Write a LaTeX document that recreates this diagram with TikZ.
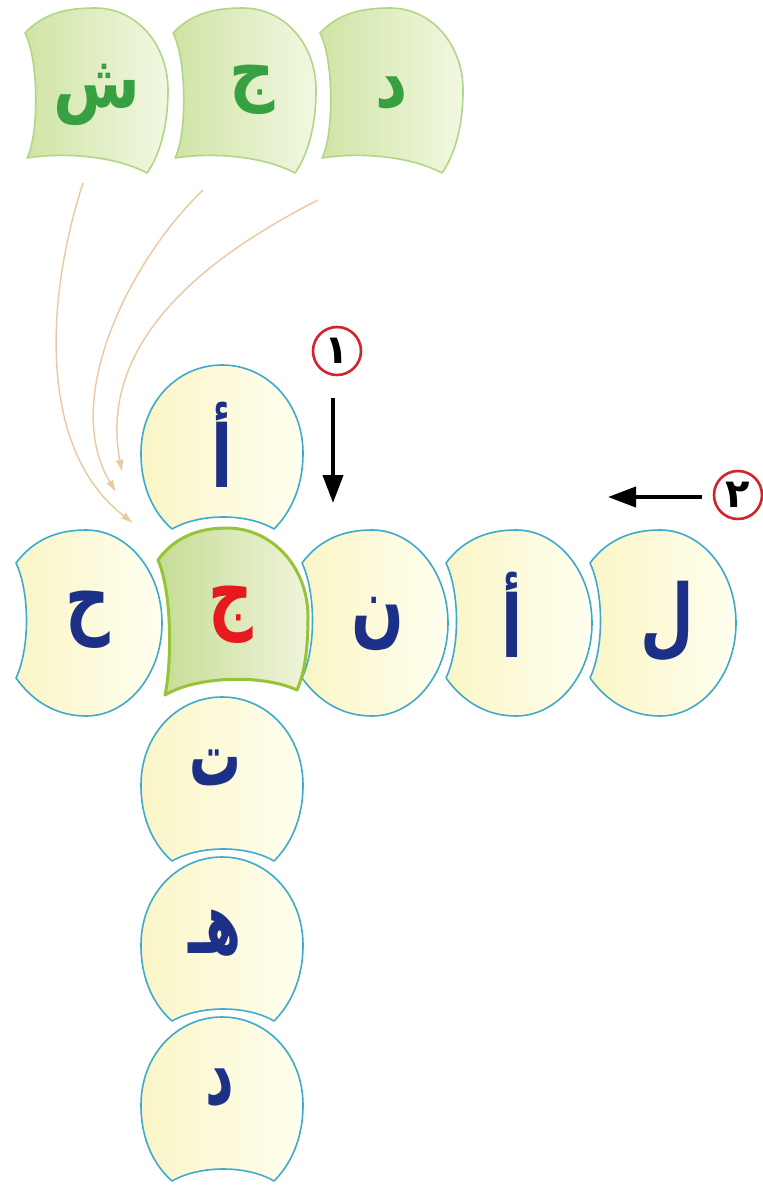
\documentclass[tikz,border=0pt]{standalone}
\usepackage{fontspec}
\usetikzlibrary{arrows.meta}
\TeXXeTstate=1
\newfontfamily\arabicfont[Script=Arabic]{DejaVu Sans}
\definecolor{hfillA}{RGB}{250,245,198}
\definecolor{hfillB}{RGB}{255,255,240}
\definecolor{hdraw}{RGB}{62,170,205}
\definecolor{gfillA}{RGB}{208,228,165}
\definecolor{gfillB}{RGB}{242,248,226}
\definecolor{gdraw}{RGB}{178,214,135}
\definecolor{cfillA}{RGB}{198,220,150}
\definecolor{cfillB}{RGB}{240,245,218}
\definecolor{cdraw}{RGB}{150,196,55}
\definecolor{letblue}{RGB}{28,48,135}
\definecolor{letgreen}{RGB}{55,160,65}
\definecolor{letred}{RGB}{230,25,30}
\definecolor{numred}{RGB}{212,35,45}
\definecolor{curvecol}{RGB}{236,200,160}
\newcommand{\arL}[2][0.72]{\scalebox{#1}[1]{\beginR #2\endR}}
\begin{document}
\begin{tikzpicture}[x=1pt,y=-1pt,
  hstyle/.style={left color=hfillA,right color=hfillB,draw=hdraw,line width=1.6pt,line join=round},
  gstyle/.style={left color=gfillA,right color=gfillB,draw=gdraw,line width=1.6pt,line join=round},
  cstyle/.style={left color=cfillA,right color=cfillB,draw=cdraw,line width=3pt,line join=round},
  letter/.style={font=\arabicfont\bfseries\fontsize{86}{96}\selectfont,text=letblue,inner sep=0pt},
  gletter/.style={font=\arabicfont\bfseries\fontsize{74}{80}\selectfont,text=letgreen,inner sep=0pt},
  numcirc/.style={circle,draw=numred,line width=2.6pt,minimum size=48pt,inner sep=0pt,
    font=\arabicfont\bfseries\fontsize{40}{44}\selectfont,text=black},
  blackarrow/.style={line width=4pt,-{Triangle[length=28pt,width=20pt]}},
  curvearrow/.style={draw=curvecol,line width=1.4pt,-{Latex[length=12pt,width=8pt]}},
  pics/hpiece/.style={code={
    \path[#1] (-70,-60) .. controls (-52,-84) and (-28,-93) .. (0,-93)
      .. controls (42,-93) and (76,-51) .. (76,0)
      .. controls (76,51) and (42,93) .. (0,93)
      .. controls (-28,93) and (-52,80) .. (-70,55)
      .. controls (-56,25) and (-56,-30) .. cycle;}},
  pics/vpiece/.style={code={
    \path[#1] (-50,76) .. controls (-68,60) and (-81,35) .. (-81,0)
      .. controls (-81,-50) and (-45,-88) .. (0,-88)
      .. controls (45,-88) and (81,-50) .. (81,0)
      .. controls (81,35) and (68,60) .. (52,76)
      .. controls (25,60) and (-22,60) .. cycle;}},
  pics/dpiece/.style={code={
    \path[#1] (-70,-57) .. controls (-52,-76) and (-30,-82) .. (0,-82)
      .. controls (42,-82) and (73,-45) .. (73,0)
      .. controls (73,38) and (64,66) .. (52,83)
      .. controls (20,66) and (-30,62) .. (-68,68)
      .. controls (-56,45) and (-56,-30) .. cycle;}},
  pics/cpiece/.style={code={
    \path[#1] (-74,-52) .. controls (-58,-74) and (-35,-84) .. (-5,-84)
      .. controls (40,-84) and (76,-45) .. (76,5)
      .. controls (76,40) and (72,62) .. (65,78)
      .. controls (30,62) and (-35,64) .. (-67,83)
      .. controls (-60,50) and (-60,-20) .. cycle;}}
]
\useasboundingbox[fill=white] (0,0) rectangle (763,1186);

% top row
\pic at (95,90) {dpiece=gstyle};
\pic at (243,90) {dpiece=gstyle};
\pic at (390,90) {dpiece=gstyle};

% orange curves
\coordinate (c1s) at (83,183);  \coordinate (c1e) at (133,523);
\coordinate (c2s) at (203,190); \coordinate (c2e) at (116,492);
\coordinate (c3s) at (318,200); \coordinate (c3e) at (122,472);
\draw[curvearrow] (c1s) .. controls (45,300) and (38,450) .. (c1e);
\draw[curvearrow] (c2s) .. controls (130,260) and (60,400) .. (c2e);
\draw[curvearrow] (c3s) .. controls (230,245) and (95,330) .. (c3e);

% vertical top piece
\pic at (222,453) {vpiece=hstyle};
% horizontal row
\pic at (86,623) {hpiece=hstyle};
\pic at (372,623) {hpiece=hstyle};
\pic at (516,623) {hpiece=hstyle};
\pic at (660,623) {hpiece=hstyle};
% vertical column
\pic at (222,1105) {vpiece=hstyle};
\pic at (222,945) {vpiece=hstyle};
\pic at (222,785) {vpiece=hstyle};
% centre piece
\pic at (232,612) {cpiece=cstyle};

% letters top row
\node[gletter] (tsh) at (97,95) {\arL[0.85]{ش}};
\node[gletter] (tjm) at (252,90) {\arL[0.85]{ج}};
\node[gletter] (tdl) at (392,93) {\arL[0.85]{د}};
% row
\node[letter] (hha) at (88,620) {\arL{ح}};
\node[letter,text=letred] (jim) at (231,615) {\arL{ج}};
\node[letter] (nun) at (378,624) {\arL{ن}};
\node[letter] (alf) at (512,615) {\arL{أ}};
\node[letter] (lam) at (667,622) {\arL{ل}};
% column
\node[letter] (alfv) at (222,445) {\arL{أ}};
\node[letter] (taa) at (215,768) {\arL[0.6]{ت}};
\node[letter] (haa) at (215,933) {\arL[0.6]{هـ}};
\node[letter] (dal) at (220,1088) {\arL[0.65]{د}};

% numbers and arrows
\node[numcirc] (n1) at (337,351) {\beginR ١\endR};
\node[numcirc] (n2) at (738,495) {\beginR ٢\endR};
\coordinate (a1s) at (333,398); \coordinate (a1e) at (333,503);
\coordinate (a2s) at (702,497); \coordinate (a2e) at (608,497);
\draw[blackarrow] (a1s) -- (a1e);
\draw[blackarrow] (a2s) -- (a2e);
\end{tikzpicture}
\end{document}
